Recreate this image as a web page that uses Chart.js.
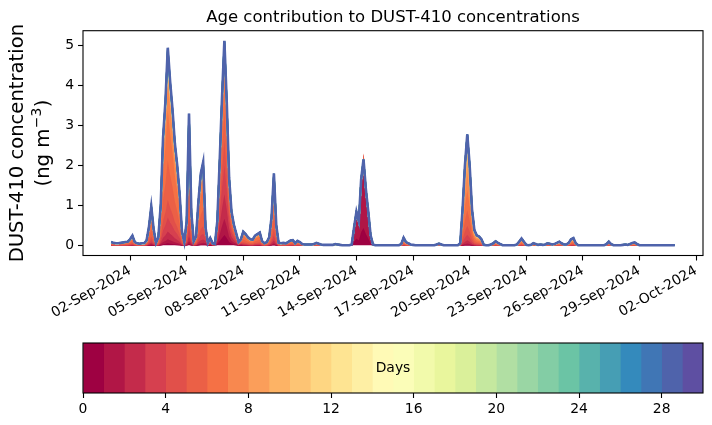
<!DOCTYPE html>
<html>
<head>
<meta charset="utf-8">
<script src="https://cdn.jsdelivr.net/npm/chart.js@4.4.1/dist/chart.umd.min.js"></script>
<style>
  html, body { margin: 0; padding: 0; background: #fff; }
  #wrap { position: relative; width: 712px; height: 425px; }
  #main { position: absolute; left: 0; top: 0; width: 712px; height: 330px; }
  #cbar { position: absolute; left: 0; top: 330px; width: 712px; height: 95px; }
</style>
</head>
<body>
<div id="wrap">
  <canvas id="main" width="712" height="330"></canvas>
  <canvas id="cbar" width="712" height="95"></canvas>
</div>
<script>
// 3-hourly output, first value at 01-Sep-2024 00:00
const STEP_HOURS = 3;

// total DUST-410 (ng m-3), one row per day
const dust = [
  0.08, 0.06, 0.05, 0.05, 0.06, 0.07, 0.08, 0.09, // 01 Sep
  0.15, 0.24, 0.08, 0.05, 0.04, 0.05, 0.05, 0.12, // 02
  0.45, 0.97, 0.40, 0.06, 0.20, 1.00, 2.70, 3.60, // 03
  4.95, 4.10, 3.40, 2.55, 2.00, 1.30, 0.35, 0.08, // 04
  0.60, 3.30, 0.80, 0.10, 0.22, 1.10, 1.80, 2.08, // 05
  0.45, 0.06, 0.18, 0.05, 0.03, 0.60, 2.10, 3.70, // 06
  5.12, 3.60, 1.70, 0.85, 0.52, 0.30, 0.08, 0.15, // 07
  0.34, 0.28, 0.20, 0.15, 0.14, 0.24, 0.28, 0.32, // 08
  0.10, 0.05, 0.08, 0.20, 0.70, 1.80, 0.50, 0.06, // 09
  0.05, 0.06, 0.05, 0.08, 0.12, 0.13, 0.05, 0.11, // 10
  0.08, 0.03, 0.02, 0.02, 0.02, 0.02, 0.03, 0.06, // 11
  0.04, 0.02, 0.01, 0.01, 0.01, 0.01, 0.01, 0.03, // 12
  0.02, 0.01, 0.00, 0.00, 0.00, 0.00, 0.02, 0.45, // 13
  0.84, 0.60, 1.65, 2.15, 1.40, 0.85, 0.25, 0.02, // 14
  0.00, 0.00, 0.00, 0.00, 0.00, 0.00, 0.00, 0.00, // 15
  0.00, 0.00, 0.00, 0.03, 0.19, 0.08, 0.05, 0.02, // 16
  0.01, 0.00, 0.00, 0.00, 0.00, 0.00, 0.00, 0.00, // 17
  0.00, 0.00, 0.02, 0.04, 0.02, 0.00, 0.00, 0.00, // 18
  0.00, 0.00, 0.00, 0.00, 0.05, 0.90, 2.00, 2.78, // 19
  2.00, 0.90, 0.38, 0.25, 0.22, 0.15, 0.01, 0.00, // 20
  0.00, 0.02, 0.05, 0.10, 0.06, 0.03, 0.00, 0.00, // 21
  0.00, 0.00, 0.00, 0.00, 0.02, 0.09, 0.17, 0.09, // 22
  0.01, 0.00, 0.01, 0.05, 0.03, 0.01, 0.02, 0.01, // 23
  0.02, 0.05, 0.04, 0.02, 0.03, 0.06, 0.09, 0.05, // 24
  0.02, 0.02, 0.06, 0.15, 0.18, 0.05, 0.00, 0.00, // 25
  0.00, 0.00, 0.00, 0.00, 0.00, 0.00, 0.00, 0.00, // 26
  0.00, 0.00, 0.03, 0.09, 0.03, 0.00, 0.00, 0.00, // 27
  0.00, 0.01, 0.02, 0.01, 0.03, 0.06, 0.07, 0.03, // 28
  0.00, 0.00, 0.00, 0.00, 0.00, 0.00, 0.00, 0.00, // 29
  0.00, 0.00, 0.00, 0.00, 0.00, 0.00, 0.00, 0.00  // 30
];

// share of each age (0..28 days) in the total, per air-mass type
const mixA = [0.01, 0.02, 0.04, 0.07, 0.09, 0.20, 0.253, 0.16, 0.06, 0.03, 0.015, 0.01, 0.006, 0.004, 0.003,
              0.003, 0.002, 0.002, 0.002, 0.002, 0.002, 0.002, 0.002, 0.002, 0.002, 0.002, 0.002, 0.002, 0.002];
const mixB = [0.05, 0.08, 0.12, 0.14, 0.12, 0.14, 0.15, 0.10, 0.04, 0.02, 0.01, 0.006, 0.004, 0.003, 0.002,
              0.002, 0.001, 0.001, 0.001, 0.001, 0.001, 0.001, 0.001, 0.001, 0.001, 0.001, 0.001, 0.001, 0.001];
const mixD = [0.20, 0.70, 0.05, 0.015, 0.008, 0.005, 0.004, 0.003, 0.002, 0.002, 0.001, 0.001, 0.0005, 0.0005, 0.0005,
              0.0005, 0.0005, 0.0005, 0.0005, 0.0005, 0.0005, 0.0005, 0.0005, 0.0005, 0.0005, 0.0005, 0.0005, 0.0005, 0.0005];
const mixE = [0.005, 0.01, 0.03, 0.05, 0.08, 0.14, 0.18, 0.16, 0.11, 0.08, 0.05, 0.04, 0.025, 0.012, 0.008,
              0.005, 0.003, 0.001, 0.001, 0.001, 0.001, 0.001, 0.001, 0.001, 0.001, 0.001, 0.001, 0.001, 0.001];

// which mix applies on each day (01 Sep .. 30 Sep)
const dayMix = ['A', 'A', 'A', 'A', 'A', 'B', 'B', 'A', 'A', 'A', 'A', 'A', 'D', 'D', 'E',
                'E', 'E', 'E', 'E', 'E', 'E', 'E', 'E', 'E', 'E', 'E', 'E', 'E', 'E', 'E'];

const tickDays = [1, 4, 7, 10, 13, 16, 19, 22, 25, 28, 31];
const tickLabels = ['02-Sep-2024', '05-Sep-2024', '08-Sep-2024', '11-Sep-2024', '14-Sep-2024', '17-Sep-2024',
                    '20-Sep-2024', '23-Sep-2024', '26-Sep-2024', '29-Sep-2024', '02-Oct-2024'];
const yTicks = [0, 1, 2, 3, 4, 5];

const cbarEdges = [0, 1, 2, 3, 4, 5, 6, 7, 8, 9, 10, 11, 12, 13, 14, 15, 16, 17, 18, 19, 20,
                   21, 22, 23, 24, 25, 26, 27, 28, 29, 30];
const cbarTicks = [0, 4, 8, 12, 16, 20, 24, 28];

const titleText = 'Age contribution to DUST-410 concentrations';
const FONT = '"DejaVu Sans", sans-serif';

// matplotlib Spectral anchors
const SPECTRAL = [[158, 1, 66], [213, 62, 79], [244, 109, 67], [253, 174, 97], [254, 224, 139], [255, 255, 191],
                  [230, 245, 152], [171, 221, 164], [102, 194, 165], [50, 136, 189], [94, 79, 162]];
function spectral(t) {
  const s = t * 10, i = Math.min(9, Math.floor(s)), f = s - i;
  const a = SPECTRAL[i], b = SPECTRAL[i + 1];
  return 'rgb(' + a.map((v, j) => Math.round(v + (b[j] - v) * f)).join(',') + ')';
}
const nBins = cbarEdges.length - 1;
const ageColors = cbarEdges.slice(0, -1).map((_, k) => spectral(k / (nBins - 1)));

const mixes = { A: mixA, B: mixB, D: mixD, E: mixE };
const days = dust.map((_, i) => i * STEP_HOURS / 24);
const nAges = mixA.length;

// cumulative sums, age 0 at the bottom
const cum = [];
let running = dust.map(() => 0);
for (let k = 0; k < nAges; k++) {
  running = running.map((v, i) => v + dust[i] * mixes[dayMix[Math.floor(days[i])]][k]);
  cum.push(running.slice());
}

const datasets = [];
for (let k = nAges - 1; k >= 0; k--) {
  datasets.push({
    data: cum[k].map((y, i) => ({ x: days[i], y: y })),
    borderColor: ageColors[k],
    backgroundColor: ageColors[k],
    borderWidth: k === nAges - 1 ? 2.6 : 1.6,
    pointRadius: 0,
    tension: 0,
    fill: k === 0 ? 'origin' : '+1'
  });
}

// axis limits with matplotlib-like 5% margins
const xSpan = days[days.length - 1] - days[0];
const xMin = days[0] - 0.05 * xSpan, xMax = days[days.length - 1] + 0.05 * xSpan;
const yTop = Math.max(...cum[nAges - 1]);
const yMin = -0.05 * yTop, yMax = yTop * 1.05;

const frame = {
  id: 'frame',
  afterDatasetsDraw(c) {
    const a = c.chartArea, ctx = c.ctx;
    ctx.save();
    ctx.strokeStyle = '#000';
    ctx.lineWidth = 1.1;
    ctx.strokeRect(a.left, a.top, a.right - a.left, a.bottom - a.top);
    ctx.restore();
  }
};

const labels = {
  id: 'labels',
  afterDraw(c) {
    const a = c.chartArea, ctx = c.ctx;
    ctx.save();
    ctx.fillStyle = '#000';
    ctx.font = '16.5px ' + FONT;
    ctx.textAlign = 'center';
    ctx.textBaseline = 'alphabetic';
    ctx.fillText(titleText, (a.left + a.right) / 2, 22);

    const mid = (a.top + a.bottom) / 2;
    ctx.font = '19.6px ' + FONT;
    ctx.translate(23, mid);
    ctx.rotate(-Math.PI / 2);
    ctx.fillText('DUST-410 concentration', 0, 0);
    // second line: (ng m^-3)
    const p1 = '(ng m', sup = '\u22123', p2 = ')';
    const w1 = ctx.measureText(p1).width, w3 = ctx.measureText(p2).width;
    ctx.font = '13.8px ' + FONT;
    const w2 = ctx.measureText(sup).width;
    const total = w1 + w2 + w3 + 1;
    let u = -total / 2;
    ctx.textAlign = 'left';
    ctx.font = '19.6px ' + FONT;
    ctx.fillText(p1, u, 26);
    u += w1 + 0.5;
    ctx.font = '13.8px ' + FONT;
    ctx.fillText(sup, u, 26 - 8);
    u += w2 + 0.5;
    ctx.font = '19.6px ' + FONT;
    ctx.fillText(p2, u, 26);
    ctx.restore();
  }
};

new Chart(document.getElementById('main'), {
  type: 'line',
  data: { datasets },
  options: {
    responsive: false,
    animation: false,
    layout: { padding: { top: 30.7, right: 9, left: 0, bottom: 0 } },
    plugins: { legend: { display: false }, tooltip: { enabled: false }, title: { display: false } },
    scales: {
      x: {
        type: 'linear',
        min: xMin,
        max: xMax,
        afterFit(s) { s.height = 74.5; },
        afterBuildTicks(s) { s.ticks = tickDays.map(v => ({ value: v })); },
        ticks: {
          callback: v => tickLabels[tickDays.indexOf(v)],
          minRotation: 30,
          maxRotation: 30,
          autoSkip: false,
          color: '#000',
          padding: 2,
          font: { family: FONT, size: 13.9 }
        },
        grid: { drawOnChartArea: false, tickLength: 5, color: '#000', tickWidth: 1.1 },
        border: { display: false }
      },
      y: {
        min: yMin,
        max: yMax,
        afterFit(s) { s.width = 83; },
        afterBuildTicks(s) { s.ticks = yTicks.map(v => ({ value: v })); },
        ticks: { color: '#000', padding: 4, font: { family: FONT, size: 13.9 } },
        grid: { drawOnChartArea: false, tickLength: 5, color: '#000', tickWidth: 1.1 },
        border: { display: false }
      }
    }
  },
  plugins: [frame, labels]
});

const daysLabel = {
  id: 'daysLabel',
  afterDraw(c) {
    const a = c.chartArea, ctx = c.ctx;
    ctx.save();
    ctx.fillStyle = '#000';
    ctx.font = '13.9px ' + FONT;
    ctx.textAlign = 'center';
    ctx.textBaseline = 'middle';
    ctx.fillText('Days', (a.left + a.right) / 2, (a.top + a.bottom) / 2);
    ctx.restore();
  }
};

new Chart(document.getElementById('cbar'), {
  type: 'bar',
  data: {
    labels: ['Days'],
    datasets: ageColors.map((c, k) => ({
      data: [[cbarEdges[k], cbarEdges[k + 1]]],
      backgroundColor: c,
      borderWidth: 0,
      barPercentage: 1,
      categoryPercentage: 1,
      grouped: false
    }))
  },
  options: {
    indexAxis: 'y',
    responsive: false,
    animation: false,
    layout: { padding: { top: 13, left: 83, right: 9, bottom: 0 } },
    plugins: { legend: { display: false }, tooltip: { enabled: false } },
    scales: {
      y: { display: false },
      x: {
        min: cbarEdges[0],
        max: cbarEdges[nBins],
        afterFit(s) { s.height = 32; },
        afterBuildTicks(s) { s.ticks = cbarTicks.map(v => ({ value: v })); },
        ticks: { color: '#000', padding: 3, font: { family: FONT, size: 13.9 } },
        grid: { drawOnChartArea: false, tickLength: 5, color: '#000', tickWidth: 1.1 },
        border: { display: false }
      }
    }
  },
  plugins: [frame, daysLabel]
});
</script>
</body>
</html>
